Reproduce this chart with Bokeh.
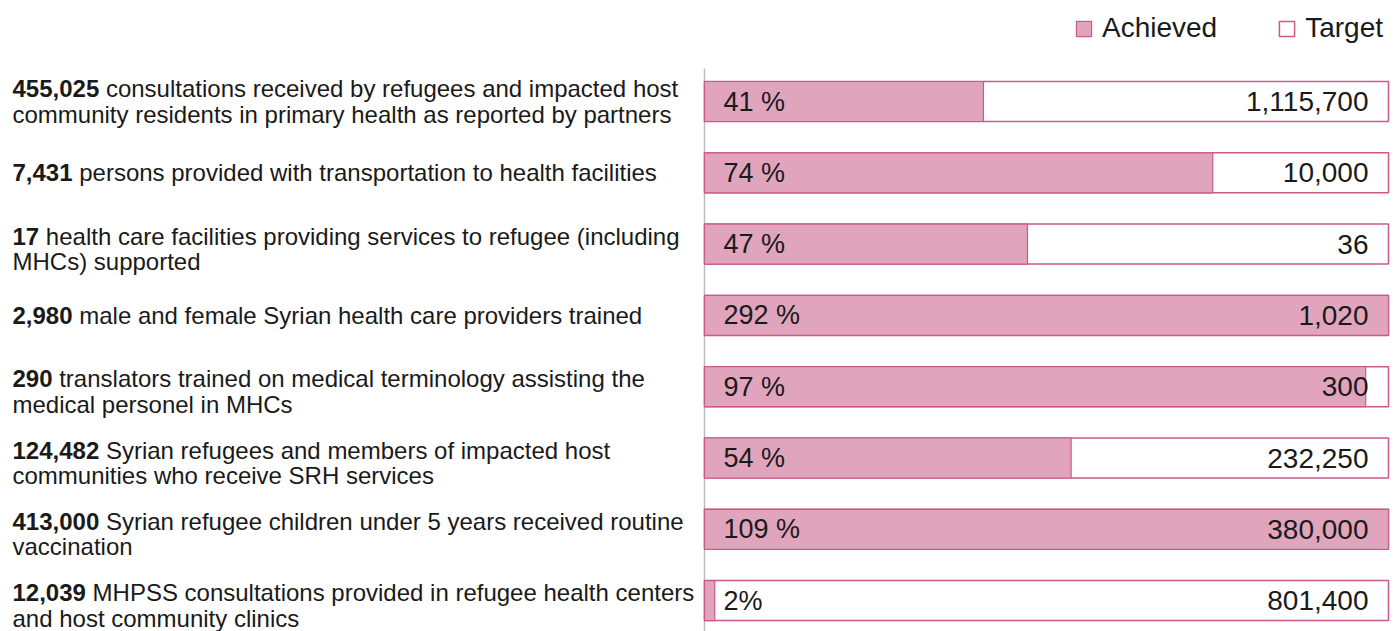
from bokeh.plotting import figure
from bokeh.models import Range1d, Legend, LegendItem, ColumnDataSource
from bokeh.core.properties import value
from bokeh.embed import file_html
from bokeh.resources import INLINE

# ---------------- data ----------------
achieved = [455025, 7431, 17, 2980, 290, 124482, 413000, 12039]
targets = [1115700, 10000, 36, 1020, 300, 232250, 380000, 801400]
pct_labels = ["41 %", "74 %", "47 %", "292 %", "97 %", "54 %", "109 %", "2%"]
desc_line1 = [
    "consultations received by refugees and impacted host",
    "persons provided with transportation to health facilities",
    "health care facilities providing services to refugee (including",
    "male and female Syrian health care providers trained",
    "translators trained on medical terminology assisting the",
    "Syrian refugees and members of impacted host",
    "Syrian refugee children under 5 years received routine",
    "MHPSS consultations provided in refugee health centers",
]
desc_line2 = [
    "community residents in primary health as reported by partners",
    "",
    "MHCs) supported",
    "",
    "medical personel in MHCs",
    "communities who receive SRH services",
    "vaccination",
    "and host community clinics",
]

# ---------------- layout ----------------
W, H = 1394, 631
BAR_L, BAR_R = 704, 1388
ppu = (BAR_R - BAR_L) / 100.0
X0, X1 = -BAR_L / ppu, (W - BAR_L) / ppu
ROW0, STEP = 101.0, 71.3
Y_TOP, Y_BOT = -ROW0 / STEP, (H - ROW0) / STEP
HALF = 20.0 / STEP

PINK = "#e1a4bd"
EDGE = "#cc5a86"
TXT = "#1a1a1a"
FONT = "Liberation Sans"
LBL_SIZE = 24
VAL_SIZE = 28
PCT_SIZE = 27

rows = list(range(len(achieved)))
fill_pct = [min(a / t * 100.0, 100.0) for a, t in zip(achieved, targets)]

p = figure(width=W, height=H, x_range=Range1d(X0, X1), y_range=Range1d(Y_BOT, Y_TOP),
           output_backend="svg", toolbar_location=None, min_border=0,
           x_axis_location=None, y_axis_location=None)
p.grid.visible = False
p.outline_line_color = None
p.background_fill_color = "white"

# vertical separator line
p.segment(x0=[0], y0=[(68 - ROW0) / STEP], x1=[0], y1=[Y_BOT],
          line_color="#bdbdbd", line_width=1.5)

src = ColumnDataSource(dict(
    y=rows,
    top=[r - HALF for r in rows],
    bottom=[r + HALF for r in rows],
    full=[100.0] * len(rows),
    zero=[0.0] * len(rows),
    fill=fill_pct,
    pct=pct_labels,
    tgt=[f"{t:,}" for t in targets],
))

tgt_r = p.quad(left="zero", right="full", top="top", bottom="bottom", source=src,
               fill_color="white", line_color=EDGE, line_width=1.5)
ach_r = p.quad(left="zero", right="fill", top="top", bottom="bottom", source=src,
               fill_color=PINK, line_color=EDGE, line_width=1.2)

p.text(x="zero", y="y", text="pct", source=src, x_offset=19,
       text_baseline="middle", text_align="left", text_color=TXT,
       text_font=value(FONT), text_font_size=f"{PCT_SIZE}px")
p.text(x="full", y="y", text="tgt", source=src, x_offset=-20,
       text_baseline="middle", text_align="right", text_color=TXT,
       text_font=value(FONT), text_font_size=f"{VAL_SIZE}px")

# ---------------- left labels ----------------
def bold_width(s, size):
    w = 0.0
    for ch in s:
        w += 0.278 if ch in ",." else 0.556
    return w * size

bold_txt = [f"{a:,}" for a in achieved]
line1_y, line2_y = [], []
for i, r in enumerate(rows):
    if desc_line2[i]:
        off1 = -13 if i == 0 else -8
        line1_y.append(r + off1 / STEP)
        line2_y.append(r + (off1 + 25.5) / STEP)
    else:
        line1_y.append(r)
        line2_y.append(r)

LX = 12
lab = ColumnDataSource(dict(
    x=[X0] * len(rows),
    y1=line1_y,
    y2=line2_y,
    b=bold_txt,
    t1=desc_line1,
    t2=desc_line2,
    off=[LX + bold_width(b, LBL_SIZE) + 0.278 * LBL_SIZE for b in bold_txt],
))
p.text(x="x", y="y1", text="b", source=lab, x_offset=LX, text_baseline="middle",
       text_color=TXT, text_font=value(FONT), text_font_style="bold",
       text_font_size=f"{LBL_SIZE}px")
p.text(x="x", y="y1", text="t1", source=lab, x_offset="off", text_baseline="middle",
       text_color=TXT, text_font=value(FONT), text_font_size=f"{LBL_SIZE}px")
p.text(x="x", y="y2", text="t2", source=lab, x_offset=LX, text_baseline="middle",
       text_color=TXT, text_font=value(FONT), text_font_size=f"{LBL_SIZE}px")

# ---------------- legend ----------------
legend = Legend(items=[LegendItem(label="Achieved", renderers=[ach_r]),
                       LegendItem(label="Target", renderers=[tgt_r])],
                orientation="horizontal", location=(1074, 587),
                glyph_width=19, glyph_height=19, label_standoff=9, spacing=60,
                padding=0, margin=0, border_line_alpha=0, background_fill_alpha=0,
                label_text_font=FONT, label_text_font_size="28px",
                label_text_color=TXT, label_text_baseline="middle")
p.add_layout(legend, "center")

open("out.html", "w").write(file_html(p, INLINE))
